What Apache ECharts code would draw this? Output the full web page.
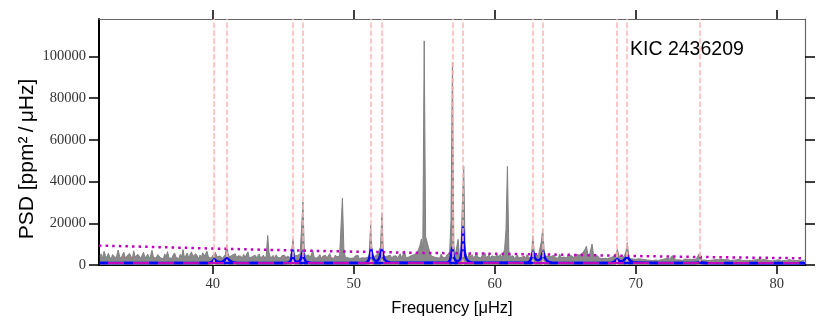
<!DOCTYPE html>
<html>
<head>
<meta charset="utf-8">
<script src="https://cdn.jsdelivr.net/npm/echarts@6/dist/echarts.min.js"></script>
<style>
  html, body { margin: 0; padding: 0; background: #fff; }
  #chart { width: 830px; height: 332px; }
</style>
</head>
<body>
<div id="chart"></div>
<script>
// power spectrum, sampled every 0.1 uHz from 32.0 to 82.0
const specStart = 32.0
const specStep = 0.1
const specPsd = [
  4200, 5300, 3100, 6600, 4500, 3500, 5600, 3900, 2800, 5000, // 32
  5900, 3400, 4500, 7200, 4200, 3000, 4800, 6200, 3300, 4300, // 33
  3700, 5500, 4600, 2900, 6800, 3900, 3400, 5100, 4200, 3200, // 34
  4700, 6100, 3300, 4100, 5200, 3000, 4600, 7000, 3700, 4200, // 35
  3300, 5000, 5600, 3500, 4400, 2900, 5300, 3800, 6400, 3400, // 36
  4300, 3200, 4800, 5800, 3700, 4200, 3000, 5100, 3900, 7400, // 37
  3500, 4600, 5700, 3300, 5000, 6300, 4100, 3400, 5400, 4400, // 38
  3000, 4800, 3700, 5900, 4200, 3300, 6600, 3800, 4700, 3200, // 39
  4500, 5300, 6000, 3900, 3500, 4300, 5200, 3300, 4200, 5000, // 40
  9400, 5300, 3800, 3300, 4800, 4000, 5400, 3400, 4400, 3800, // 41
  4200, 3200, 5100, 3700, 4600, 6300, 3400, 4300, 3900, 3000, // 42
  4800, 3500, 4200, 5300, 3300, 3900, 4700, 3200, 4300, 14200, // 43
  5700, 3400, 4100, 4600, 3000, 4900, 3700, 4200, 3300, 4400, // 44
  3800, 4700, 3200, 4300, 5200, 3500, 6800, 12300, 4400, 4000, // 45
  4500, 3700, 5300, 17000, 30200, 6000, 4200, 3400, 4900, 3300, // 46
  4000, 7000, 3500, 4400, 3300, 3900, 5000, 3200, 4200, 3700, // 47
  4700, 3300, 3900, 5500, 3500, 4300, 3200, 4800, 3800, 3400, // 48
  4400, 5000, 32000, 8000, 3800, 4500, 3400, 4000, 3200, 3800, // 49
  3300, 4300, 3700, 4700, 3000, 3900, 3500, 4400, 3300, 4200, // 50
  3700, 4800, 19300, 6500, 4000, 3400, 4500, 5500, 6000, 8500, // 51
  24700, 5600, 3900, 3300, 4300, 3700, 4700, 3200, 4200, 3500, // 52
  4400, 3400, 3900, 5400, 3300, 4000, 6800, 3500, 4300, 3800, // 53
  3400, 4500, 3900, 5000, 4200, 6000, 7500, 9500, 12500, 7500, // 54
  107500, 13500, 14000, 8500, 6000, 4400, 5300, 3800, 4500, 3500, // 55
  4200, 3300, 5200, 3800, 4400, 3400, 4800, 3900, 5800, 21000, // 56
  97300, 9500, 4400, 5000, 12300, 4000, 6500, 28000, 47300, 7000, // 57
  4500, 3500, 5600, 3900, 4900, 3300, 4300, 5800, 3800, 4200, // 58
  3400, 4500, 3900, 5900, 3500, 4200, 4900, 3300, 4400, 3800, // 59
  4000, 3400, 4800, 3800, 5100, 3500, 4400, 7500, 17000, 47300, // 60
  7000, 4100, 3500, 4400, 3100, 4000, 4800, 3400, 4200, 3700, // 61
  3500, 4300, 3200, 5000, 3700, 4200, 3400, 14000, 6500, 4400, // 62
  3800, 4700, 5300, 11000, 17000, 7500, 4000, 3400, 4300, 3600, // 63
  4100, 3200, 4700, 3700, 4300, 3100, 5200, 3600, 4400, 3800, // 64
  4200, 3500, 4800, 4000, 4600, 5400, 3700, 4400, 5000, 4100, // 65
  4800, 4200, 5500, 6000, 7500, 9000, 5400, 4300, 5000, 10000, // 66
  5200, 4200, 3600, 4400, 3400, 4000, 3100, 3800, 3200, 3700, // 67
  3100, 3800, 3500, 3000, 4000, 3400, 5500, 7500, 4500, 3600, // 68
  3400, 4000, 4300, 6500, 10700, 4200, 3100, 3700, 2900, 3500, // 69
  2700, 2300, 3000, 2500, 2800, 2200, 2600, 3100, 2400, 2700, // 70
  2300, 2800, 2100, 2600, 2400, 3000, 2200, 2700, 2500, 2300, // 71
  2800, 2400, 3200, 2600, 2900, 3600, 4500, 3300, 2700, 2400, // 72
  3000, 2500, 2800, 2200, 2600, 2900, 2300, 2700, 2400, 2800, // 73
  2200, 2600, 2400, 2900, 2500, 5500, 4000, 2300, 2700, 2400, // 74
  2500, 2100, 2700, 2300, 2900, 2400, 2000, 2600, 2200, 2500, // 75
  2300, 2700, 2000, 2500, 2200, 2800, 2400, 2100, 2600, 2300, // 76
  2000, 2400, 2200, 2700, 1900, 2300, 2500, 2100, 2600, 2200, // 77
  2400, 2100, 2600, 2300, 2000, 2500, 2200, 2800, 2100, 2400, // 78
  2200, 2600, 2000, 2400, 2700, 2100, 2300, 1900, 2500, 2200, // 79
  2100, 2500, 2300, 1900, 2600, 2200, 2400, 2000, 2300, 2700, // 80
  2300, 2000, 2500, 2200, 2600, 2100, 2400, 1900, 2300, 2200, // 81
  2400 // 82
]

// fitted mode profile (blue)
const fitFreq = [
  31.94, 39.5, 39.8, 40.0, 40.11, 40.25, 40.45, 40.6, 40.8, 41.01, 41.2, 41.45, 41.8,
  45.2, 45.45, 45.58, 45.67, 45.76, 45.9, 46.05, 46.22, 46.3, 46.38, 46.47, 46.65, 47.0,
  50.8, 51.0, 51.1, 51.18, 51.23, 51.3, 51.4, 51.6, 51.75, 51.87, 51.99, 52.1, 52.25, 52.6,
  56.6, 56.8, 56.92, 56.99, 57.07, 57.2, 57.4, 57.58, 57.68, 57.75, 57.83, 57.95, 58.2, 58.5,
  62.3, 62.5, 62.62, 62.72, 62.82, 62.95, 63.1, 63.25, 63.35, 63.43, 63.53, 63.7, 64.1,
  68.2, 68.45, 68.68, 68.9, 69.1, 69.39, 69.6, 69.9,
  74.1, 74.57, 75.0, 82.0
]
const fitPsd = [
  900, 950, 1100, 1800, 2700, 2000, 1400, 1400, 2000, 3200, 2200, 1300, 1000,
  1000, 1500, 3000, 6900, 3000, 1600, 1500, 2500, 4200, 6400, 3500, 1500, 1000,
  1000, 1800, 3200, 6000, 8000, 5500, 3000, 1900, 2600, 4500, 7500, 4200, 2200, 1200,
  1100, 2000, 5200, 8300, 4800, 2400, 1900, 3500, 9500, 18100, 9000, 3500, 1500, 1100,
  1100, 2000, 4000, 6400, 4000, 2500, 2300, 3000, 4800, 6400, 4000, 2000, 1100,
  1000, 1500, 2700, 1800, 2000, 3700, 2200, 1200,
  950, 1300, 950, 850
]

// smooth background (magenta dotted)
const bgFreq = [31.94, 36, 40, 45, 50, 55, 60, 65, 70, 75, 82]
const bgPsd = [9300, 8600, 7900, 7100, 6400, 5800, 5400, 4900, 4300, 3800, 3200]

// white noise level
const noiseFreq = [31.94, 82.0]
const noisePsd = [900, 900]

// mode frequencies (pink dashed)
const modeFreqs = [40.11, 41.01, 45.67, 46.38, 51.23, 51.99, 56.99, 57.75, 62.72, 63.43, 68.68, 69.39, 74.57]

const xTicks = [40, 50, 60, 70, 80]
const yTicks = [0, 20000, 40000, 60000, 80000, 100000]

const xMin = 31.94
const xMax = 82.0
const yMin = 0
const yMax = 118000

const pairs = (xs, ys) => xs.map((x, i) => [x, ys[i]])
const specData = specPsd.map((v, i) => [+(specStart + i * specStep).toFixed(2), v])

const tickFont = { fontFamily: 'Liberation Serif', fontSize: 14.5, color: '#333' }
const plain = v => String(v)

const chart = echarts.init(document.getElementById('chart'), null, { renderer: 'canvas' })

chart.setOption({
  animation: false,
  backgroundColor: '#fff',
  grid: { left: 99, right: 25, top: 19, bottom: 67 },
  xAxis: [
    {
      type: 'value', min: xMin, max: xMax, position: 'bottom',
      name: 'Frequency [μHz]', nameLocation: 'middle', nameGap: 35,
      nameTextStyle: { fontFamily: 'Liberation Sans', fontSize: 16.5, color: '#000' },
      axisLine: { show: true, onZero: false, lineStyle: { color: '#000', width: 2 } },
      axisTick: { show: true, inside: false, length: 9, customValues: xTicks, lineStyle: { color: '#000', width: 1.5 } },
      axisLabel: { show: true, margin: 12, customValues: xTicks, formatter: plain, ...tickFont },
      splitLine: { show: false }
    },
    {
      type: 'value', min: xMin, max: xMax, position: 'top',
      axisLine: { show: true, onZero: false, lineStyle: { color: '#666', width: 1.2 } },
      axisTick: { show: true, inside: false, length: 9, customValues: xTicks, lineStyle: { color: '#000', width: 1.5 } },
      axisLabel: { show: false },
      splitLine: { show: false }
    }
  ],
  yAxis: [
    {
      type: 'value', min: yMin, max: yMax, position: 'left',
      axisLine: { show: true, onZero: false, lineStyle: { color: '#000', width: 2 } },
      axisTick: { show: true, inside: false, length: 10, customValues: yTicks, lineStyle: { color: '#000', width: 1.5 } },
      axisLabel: { show: true, margin: 13, customValues: yTicks, formatter: plain, ...tickFont },
      splitLine: { show: false }
    },
    {
      type: 'value', min: yMin, max: yMax, position: 'right',
      axisLine: { show: true, onZero: false, lineStyle: { color: '#666', width: 1.2 } },
      axisTick: { show: true, inside: false, length: 10, customValues: yTicks, lineStyle: { color: '#000', width: 1.5 } },
      axisLabel: { show: false },
      splitLine: { show: false }
    }
  ],
  graphic: [
    {
      type: 'text', x: 27, y: 159, rotation: Math.PI / 2,
      style: {
        text: 'PSD [ppm²\u2009/\u2009μHz]', fill: '#000',
        font: '21px "Liberation Sans"', align: 'center', verticalAlign: 'middle'
      }
    },
    {
      type: 'text', x: 630, y: 50,
      style: {
        text: 'KIC 2436209', fill: '#000',
        font: '19.5px "Liberation Sans"', align: 'left', verticalAlign: 'middle'
      }
    }
  ],
  series: [
    {
      name: 'modes', type: 'line', z: 1, symbol: 'none', silent: true,
      data: [[xMin, 0]], lineStyle: { width: 0 },
      markLine: {
        silent: true, symbol: ['none', 'none'], label: { show: false },
        lineStyle: { color: '#ffb5b5', width: 1.5, type: [5.5, 2.4] },
        data: modeFreqs.map(f => ({ xAxis: f }))
      }
    },
    {
      name: 'PSD', type: 'line', z: 2, symbol: 'none', sampling: 'none',
      data: specData,
      lineStyle: { color: '#808080', width: 1 },
      areaStyle: { color: '#8a8a8a', opacity: 1 }
    },
    {
      name: 'background', type: 'line', z: 3, symbol: 'none',
      data: pairs(bgFreq, bgPsd),
      lineStyle: { color: '#bf00bf', width: 2.5, type: [2.5, 4.1] }
    },
    {
      name: 'fit', type: 'line', z: 4, symbol: 'none', smooth: 0.3,
      data: pairs(fitFreq, fitPsd),
      lineStyle: { color: '#0000ff', width: 2.5 }
    },
    {
      name: 'noise', type: 'line', z: 5, symbol: 'none',
      data: pairs(noiseFreq, noisePsd),
      lineStyle: { color: '#bf00bf', width: 2 }
    },
    {
      name: 'noise model', type: 'line', z: 6, symbol: 'none',
      data: pairs(noiseFreq, noisePsd),
      lineStyle: { color: '#0000ff', width: 2.5, type: [9, 16] }
    }
  ]
})
</script>
</body>
</html>
